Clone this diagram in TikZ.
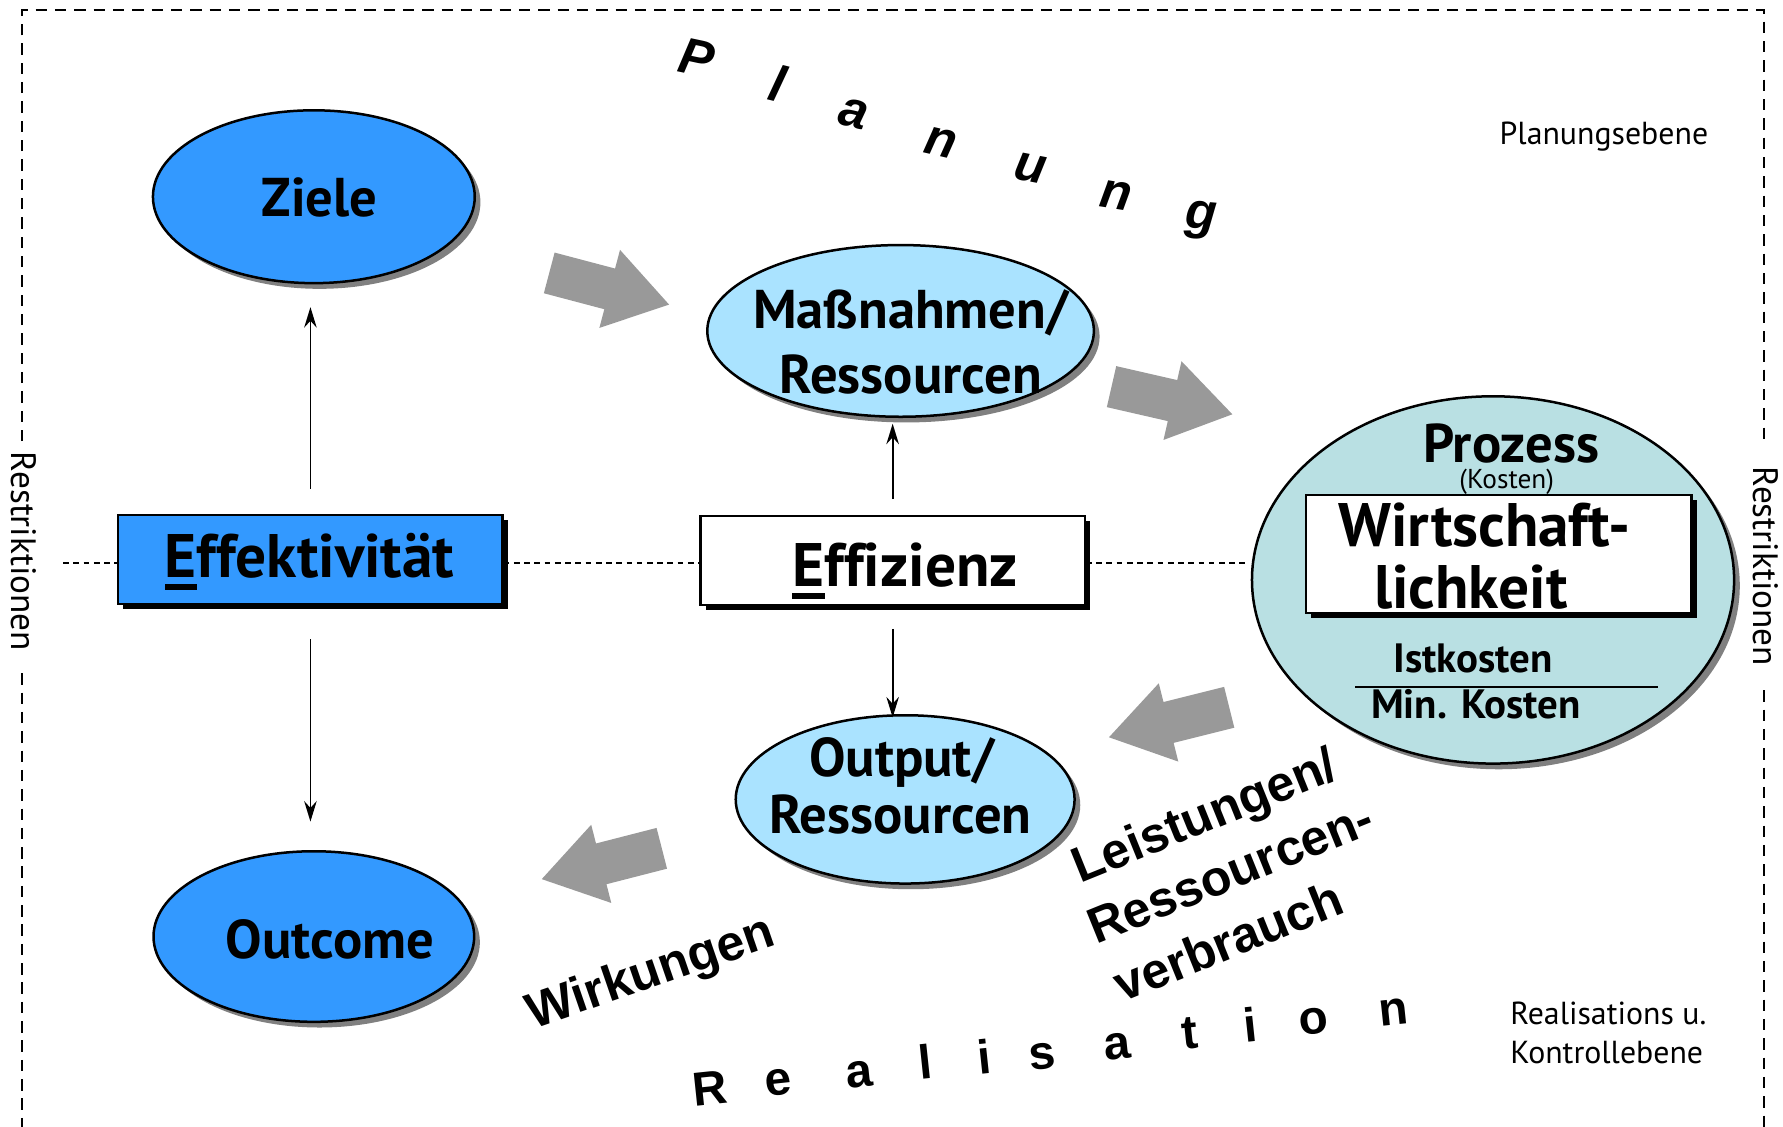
\documentclass[tikz,border=0pt]{standalone}
\usepackage{fontspec}
\setmainfont[Ligatures=CommonOff]{PT Sans}
\newfontfamily\arialf{Liberation Sans}
\usetikzlibrary{shapes.geometric,shadows,arrows.meta}
\definecolor{cBlue}{HTML}{3399FF}
\definecolor{cLight}{HTML}{AAE3FF}
\definecolor{cTeal}{HTML}{B9E0E3}
\definecolor{cArrow}{HTML}{999999}
\definecolor{cShadow}{HTML}{808080}
\newcommand\ulE{\setbox0\hbox{E}\rlap{\rule[-10.5pt]{\wd0}{5.3pt}}E}
\tikzset{
  ell/.style={ellipse, draw=black, line width=2.2pt, inner sep=0pt,
    drop shadow={shadow xshift=5pt, shadow yshift=-5pt, fill=cShadow, opacity=1}},
  boxn/.style={rectangle, draw=black, line width=2pt, inner sep=0pt,
    drop shadow={shadow xshift=4.5pt, shadow yshift=-4.5pt, fill=black, opacity=1}},
  txt/.style={inner sep=0pt, anchor=base},
  bigtxt/.style={txt, font=\bfseries\fontsize{48}{56}\selectfont},
  hugetxt/.style={txt, font=\bfseries\fontsize{54}{60}\selectfont},
  midtxt/.style={txt, font=\bfseries\fontsize{36}{42}\selectfont},
  smalltxt/.style={txt, font=\fontsize{28}{34}\selectfont},
  resttxt/.style={inner sep=0pt, anchor=center, rotate=-90, font=\fontsize{31}{36}\selectfont},
  plan/.style={txt, font=\arialf\bfseries\itshape\fontsize{45}{50}\selectfont},
  real/.style={txt, font=\arialf\bfseries\fontsize{42}{48}\selectfont},
  slant/.style={inner sep=0pt, anchor=base west, font=\arialf\bfseries\fontsize{44}{50}\selectfont},
  thinarrow/.style={line width=1.6pt, -{Stealth[length=18pt,width=11pt,inset=6pt]}},
  middash/.style={line width=1.3pt, dash pattern=on 5pt off 4pt},
  border/.style={line width=2pt, dash pattern=on 10pt off 7pt},
  fatarrow/.pic={\fill[cArrow] (0,-18.5) -- (55,-18.5) -- (55,-35.5) -- (109,0)
      -- (55,35.5) -- (55,18.5) -- (0,18.5) -- cycle;}
}
\begin{document}
\begin{tikzpicture}[x=1pt,y=-1pt]
\useasboundingbox (0,0) rectangle (1568,991);

% frame
\draw[border] (19.5,388) -- (19.5,8.8) -- (1551,8.8) -- (1551,390);
\draw[border] (19.5,592) -- (19.5,991);
\draw[border] (1551,607) -- (1551,991);
\node[resttxt] (restl) at (21,485) {Restriktionen};
\node[resttxt] (restr) at (1552.6,498) {Restriktionen};

% ellipses
\node[ell, fill=cBlue, minimum width=283, minimum height=152] (ziele) at (276,173) {};
\node[ell, fill=cBlue, minimum width=282, minimum height=150] (outc) at (276,823.6) {};
\node[ell, fill=cLight, minimum width=340, minimum height=151] (mass) at (792,291) {};
\node[ell, fill=cLight, minimum width=298, minimum height=148] (outp) at (796,703) {};
\node[ell, fill=cTeal, minimum width=424, minimum height=323] (proz) at (1313,510) {};

% boxes
\node[boxn, fill=cBlue, minimum width=338, minimum height=78] (eff) at (273,492) {};
\node[boxn, fill=white, minimum width=338, minimum height=78] (effz) at (785,493) {};
\node[boxn, fill=white, minimum width=339, minimum height=104] (wirt) at (1318,487) {};

% texts
\node[bigtxt] (tziele) at (281,190.5) {Ziele};
\node[bigtxt] (toutc) at (290,843) {Outcome};
\node[bigtxt] (tmass1) at (801,289) {Maßnahmen/};
\node[bigtxt] (tmass2) at (801,346) {Ressourcen};
\node[bigtxt] (toutp1) at (793,683) {Output/};
\node[bigtxt] (toutp2) at (792,733) {Ressourcen};
\node[hugetxt] (teff) at (272,508) {\ulE ffektivität};
\node[hugetxt] (teffz) at (796,516) {\ulE ffizienz};
\node[bigtxt] (tproz) at (1329,407) {Prozess};
\node[txt, font=\fontsize{24}{28}\selectfont] (tkost) at (1325,430) {(Kosten)};
\node[hugetxt] (twirt1) at (1305.5,481) {Wirtschaft-};
\node[hugetxt] (twirt2) at (1293.5,535) {lichkeit};
\node[midtxt] (tist) at (1295.5,591) {Istkosten};
\node[midtxt] (tmin) at (1298,632) {Min. Kosten};
\coordinate (fl) at (1192,604);
\coordinate (fr) at (1458,604);
\draw[line width=2pt] (fl) -- (fr);

\node[smalltxt] (planeb) at (1410.5,127.5) {Planungsebene};
\node[smalltxt, anchor=base west] (realeb1) at (1328,901) {Realisations u.};
\node[smalltxt, anchor=base west] (realeb2) at (1328,935.4) {Kontrollebene};

% dashed middle line
\coordinate (dl) at (55.6,495);
\coordinate (dr) at (1097,495);
\draw[middash] (dl) -- (dl -| eff.west);
\draw[middash] (eff.east |- dl) -- (effz.west |- dl);
\draw[middash] (effz.east |- dl) -- (dr);

% thin arrows
\draw[thinarrow, shorten <=22pt, shorten >=20pt] (eff.north) -- (eff.north |- ziele.south);
\draw[thinarrow, shorten <=30pt, shorten >=25pt] (eff.south) -- (eff.south |- outc.north);
\draw[thinarrow, shorten <=14pt, shorten >=5pt] (effz.north) -- (effz.north |- mass.south);
\draw[thinarrow, shorten <=20pt, shorten >=-3pt] (effz.south) -- (effz.south |- outp.north);

% fat arrows
\pic[rotate=-14.8] at (483,240) {fatarrow};
\pic[rotate=-12.9] at (977.5,340) {fatarrow};
\pic[rotate=194] at (1081,622) {fatarrow};
\pic[rotate=194.4] at (582,746) {fatarrow};

% Planung
\node[plan, rotate=-12] (p1) at (610,66) {P};
\node[plan, rotate=-14] (p2) at (680,89) {l};
\node[plan, rotate=-14] (p3) at (748,112) {a};
\node[plan, rotate=-13] (p4) at (825,137) {n};
\node[plan, rotate=-11] (p5) at (904,160) {u};
\node[plan, rotate=-9] (p6) at (980,184) {n};
\node[plan, rotate=-5] (p7) at (1055,201) {g};

% Realisation
\node[real, rotate=6] (r1) at (626,971.7) {R};
\node[real, rotate=6] (r2) at (685.5,963) {e};
\node[real, rotate=6] (r3) at (757,956) {a};
\node[real, rotate=6] (r4) at (815,948.6) {l};
\node[real, rotate=6] (r5) at (867,944) {i};
\node[real, rotate=6] (r6) at (918,939.8) {s};
\node[real, rotate=6] (r7) at (983.5,931) {a};
\node[real, rotate=6] (r8) at (1048,922) {t};
\node[real, rotate=6] (r9) at (1101,916.3) {i};
\node[real, rotate=6] (r10) at (1156,909) {o};
\node[real, rotate=6] (r11) at (1227,901.4) {n};

% slanted labels
\node[slant, rotate=19] (wirk) at (469,905) {Wirkungen};
\node[slant, rotate=22] (lei1) at (950,777) {Leistungen/};
\node[slant, rotate=22] (lei2) at (964,831) {Ressourcen-};
\node[slant, rotate=22] (lei3) at (987,882) {verbrauch};
\end{tikzpicture}
\end{document}
